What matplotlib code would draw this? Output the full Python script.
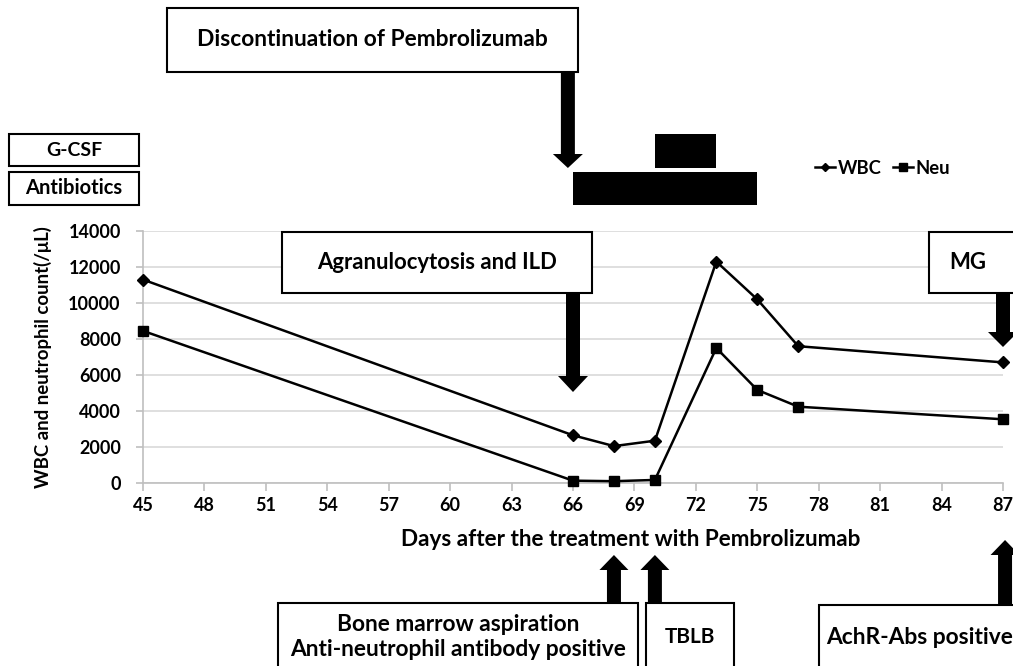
import matplotlib
matplotlib.use("Agg")
import matplotlib.pyplot as plt
from matplotlib.patches import Rectangle, FancyArrow
import numpy as np

plt.rcParams['font.family'] = ['Lato', 'DejaVu Sans']
plt.rcParams['font.weight'] = 'bold'

# data
days = [45, 66, 68, 70, 73, 75, 77, 87]
wbc = [11300, 2650, 2050, 2350, 12300, 10200, 7600, 6700]
neu = [8450, 130, 100, 170, 7500, 5170, 4240, 3540]

xticks = list(range(45, 88, 3))
yticks = list(range(0, 14001, 2000))

# treatment bars (start day, end day)
gcsf_days = (70, 73)
abx_days = (66, 75)

# event arrows (day)
stop_day = 65.75
agran_day = 66
mg_day = 87
bm_day = 68
tblb_day = 70
achr_day = 87.1

W, H = 1013, 666
fig = plt.figure(figsize=(W / 100, H / 100), dpi=100)
ax = fig.add_axes([143 / W, (H - 483) / H, 860 / W, 252 / H])

ax.plot(days, wbc, color='black', lw=1.8, marker='D', ms=6, clip_on=False, zorder=3, label='WBC')
ax.plot(days, neu, color='black', lw=1.8, marker='s', ms=7.5, clip_on=False, zorder=3, label='Neu')

ax.set_xlim(45, 87)
ax.set_ylim(0, 14000)
ax.set_xticks(xticks)
ax.set_yticks(yticks)
ax.grid(axis='y', color='#d9d9d9', lw=1.2)
ax.set_axisbelow(True)
for s in ['top', 'right']:
    ax.spines[s].set_visible(False)
for s in ['left', 'bottom']:
    ax.spines[s].set_color('#bfbfbf')
    ax.spines[s].set_linewidth(1.2)
ax.tick_params(axis='x', colors='#bfbfbf', length=6, width=1.2, labelcolor='black', labelsize=13, pad=4)
ax.tick_params(axis='y', colors='#bfbfbf', length=5, width=1.2, labelcolor='black', labelsize=13, pad=11)
for lab in ax.get_xticklabels() + ax.get_yticklabels():
    lab.set_fontweight('bold')
ax.set_ylabel('WBC and neutrophil count(/μL)', fontsize=13.4, fontweight='bold', labelpad=12)
fig.text(631 / W, 1 - 540 / H, 'Days after the treatment with Pembrolizumab',
         ha='center', va='center', fontsize=16.2, fontweight='bold')

leg = ax.legend(loc='center left', bbox_to_anchor=(798 / W, 1 - 168 / H), bbox_transform=fig.transFigure,
                ncol=2, frameon=False, handlelength=1.1, handletextpad=0.15, columnspacing=0.6,
                prop={'weight': 'bold', 'size': 13.3}, markerscale=0.75)

# overlay in pixel coordinates for boxes and arrows
ov = fig.add_axes([0, 0, 1, 1], zorder=5)
ov.set_xlim(0, W)
ov.set_ylim(H, 0)
ov.axis('off')


def px(day):
    xd = ax.transData.transform((day, 0))
    return ov.transData.inverted().transform(xd)[0]


def box(x0, y0, x1, y1, text=None, size=14, tx=None, ty=None):
    ov.add_patch(Rectangle((x0, y0), x1 - x0, y1 - y0, facecolor='white',
                           edgecolor='black', lw=1.5, clip_on=False, zorder=2))
    if text:
        tx = (x0 + min(x1, W)) / 2 if tx is None else tx
        ty = (y0 + min(y1, H)) / 2 if ty is None else ty
        ov.text(tx, ty, text, ha='center', va='center', fontsize=size, fontweight='bold',
                zorder=3, linespacing=1.25)


def arrow(x, y_start, y_tip, shaft=14, head=30, head_len=14):
    dy = y_tip - y_start
    ov.add_patch(FancyArrow(x, y_start, 0, dy, width=shaft, head_width=head, head_length=head_len,
                            length_includes_head=True, color='black', lw=0, zorder=4))


# top
box(167, 8, 578, 72, 'Discontinuation of Pembrolizumab', 16.4)
arrow(px(stop_day), 72, 168, head_len=14)

box(9, 134, 139, 166, 'G-CSF', 14)
box(9, 172, 139, 205, 'Antibiotics', 14.5)
ov.add_patch(Rectangle((px(gcsf_days[0]), 134), px(gcsf_days[1]) - px(gcsf_days[0]), 34,
                       facecolor='black', edgecolor='black', lw=0))
ov.add_patch(Rectangle((px(abx_days[0]), 172), px(abx_days[1]) - px(abx_days[0]), 33,
                       facecolor='black', edgecolor='black', lw=0))

box(282, 232, 592, 293, 'Agranulocytosis and ILD', 15.9)
arrow(px(agran_day), 293, 392, head_len=16)

box(929, 232, 1030, 293, 'MG', 15.9, tx=968)
arrow(px(mg_day), 293, 347, head_len=15)

# bottom
box(278, 603, 638, 690, 'Bone marrow aspiration\nAnti-neutrophil antibody positive', 16.4, ty=637)
box(646, 603, 734, 690, 'TBLB', 15, ty=637)
box(819, 605, 1030, 690, 'AchR-Abs positive', 16.4, tx=920, ty=638)

arrow(px(bm_day), 603, 555, shaft=14, head=29, head_len=15)
arrow(px(tblb_day), 603, 555, shaft=14, head=29, head_len=15)
arrow(px(achr_day), 605, 540, shaft=14, head=29, head_len=15)

fig.savefig('out.png', dpi=100)
